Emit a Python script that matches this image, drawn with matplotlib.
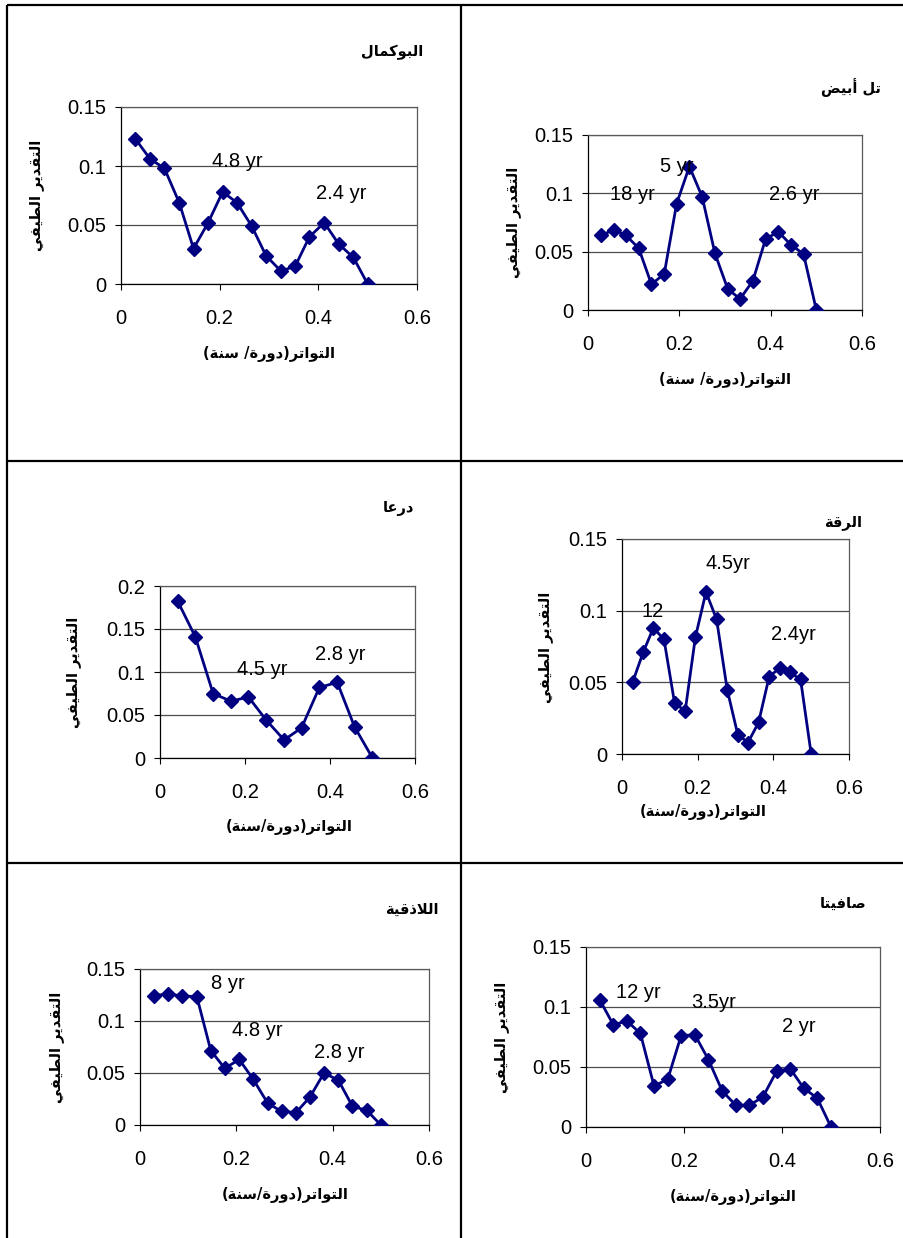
#--------------------- Imports ---------------------
import matplotlib
matplotlib.use('Agg')
import matplotlib.pyplot as plt
from matplotlib.ticker import FuncFormatter

W, H = 904, 1238
plt.rcParams['font.family'] = ['Liberation Sans', 'DejaVu Sans']

#--------------------- Data ---------------------
# frequencies (cycles / year) of the periodogram ordinates
freq34 = [0.029, 0.059, 0.088, 0.118, 0.147, 0.176, 0.206, 0.235, 0.265,
		  0.294, 0.324, 0.353, 0.382, 0.412, 0.441, 0.471, 0.5]
freq36 = [0.028, 0.056, 0.083, 0.111, 0.139, 0.167, 0.194, 0.222, 0.25,
		  0.278, 0.306, 0.333, 0.361, 0.389, 0.417, 0.444, 0.472, 0.5]
freq24 = [0.042, 0.083, 0.125, 0.167, 0.208, 0.25, 0.292, 0.333, 0.375,
		  0.417, 0.458, 0.5]

abukamal = [0.123, 0.106, 0.098, 0.069, 0.030, 0.0515, 0.078, 0.069, 0.049,
			0.024, 0.011, 0.015, 0.040, 0.052, 0.034, 0.0225, 0.0]
tallabyad = [0.064, 0.0685, 0.064, 0.053, 0.022, 0.031, 0.091, 0.123, 0.097,
			 0.0485, 0.018, 0.0095, 0.025, 0.061, 0.067, 0.056, 0.048, 0.0]
daraa = [0.182, 0.141, 0.075, 0.066, 0.071, 0.044, 0.021, 0.035, 0.082,
		 0.088, 0.036, 0.0]
raqqa = [0.050, 0.071, 0.088, 0.080, 0.0355, 0.030, 0.0815, 0.113, 0.094,
		 0.045, 0.0135, 0.008, 0.022, 0.054, 0.060, 0.057, 0.052, 0.0]
latakia = [0.1245, 0.126, 0.124, 0.1235, 0.0715, 0.0545, 0.063, 0.044, 0.021,
		   0.013, 0.012, 0.027, 0.050, 0.043, 0.018, 0.014, 0.0]
safita = [0.106, 0.085, 0.0885, 0.078, 0.034, 0.040, 0.076, 0.077, 0.056,
		  0.030, 0.018, 0.018, 0.025, 0.0465, 0.0485, 0.0325, 0.024, 0.0]

stations = ['البوكمال', 'تل أبيض', 'درعا', 'الرقة', 'اللاذقية', 'صافيتا']
y_label = 'التقدير الطيفي'
x_labels = ['التواتر(دورة/ سنة)', 'التواتر(دورة/ سنة)', 'التواتر(دورة/سنة)',
			'التواتر(دورة/سنة)', 'التواتر(دورة/سنة)', 'التواتر(دورة/سنة)']
y_max = [0.15, 0.15, 0.2, 0.15, 0.15, 0.15]

peak_text = [['4.8 yr', '2.4 yr'], ['18 yr', '5 yr', '2.6 yr'], ['4.5 yr', '2.8 yr'],
			 ['12', '4.5yr', '2.4yr'], ['8 yr', '4.8 yr', '2.8 yr'], ['12 yr', '3.5yr', '2 yr']]
peak_x = [[0.236, 0.446], [0.098, 0.194, 0.451], [0.240, 0.424],
		  [0.082, 0.280, 0.453], [0.183, 0.244, 0.414], [0.107, 0.261, 0.435]]
peak_y = [[0.1036, 0.0768], [0.0994, 0.1229, 0.0994], [0.1029, 0.1204],
		  [0.0994, 0.1326, 0.0831], [0.1356, 0.0909, 0.0697], [0.1122, 0.1039, 0.0839]]

series = [(freq34, abukamal), (freq36, tallabyad), (freq24, daraa),
		  (freq36, raqqa), (freq34, latakia), (freq36, safita)]

#--------------------- Layout (pixels) ---------------------
# axes box (left, top, right, bottom), title right edge, y label centre, x label centre
boxes = [(121, 107, 417, 284), (588, 135, 862, 310), (160, 586, 415, 758),
		 (622, 539, 849, 754), (140, 969, 429, 1125), (586, 947, 880, 1127)]
title_pos = [(423, 52), (881, 88), (414, 509), (862, 522), (439, 909), (866, 903)]
ylab_pos = [(37, 195), (514, 222), (74, 672), (546, 647), (57, 1047), (502, 1037)]
xlab_pos = [(269, 354), (725, 380), (289, 827), (703, 812), (285, 1195), (733, 1197)]

#--------------------- Arabic shaping ---------------------
# isolated, final, initial, medial presentation forms
FORMS = {
	'ا': ('\ufe8d', '\ufe8e', None, None),
	'أ': ('\ufe83', '\ufe84', None, None),
	'ب': ('\ufe8f', '\ufe90', '\ufe91', '\ufe92'),
	'ة': ('\ufe93', '\ufe94', None, None),
	'ت': ('\ufe95', '\ufe96', '\ufe97', '\ufe98'),
	'د': ('\ufea9', '\ufeaa', None, None),
	'ذ': ('\ufeab', '\ufeac', None, None),
	'ر': ('\ufead', '\ufeae', None, None),
	'س': ('\ufeb1', '\ufeb2', '\ufeb3', '\ufeb4'),
	'ص': ('\ufeb9', '\ufeba', '\ufebb', '\ufebc'),
	'ض': ('\ufebd', '\ufebe', '\ufebf', '\ufec0'),
	'ط': ('\ufec1', '\ufec2', '\ufec3', '\ufec4'),
	'ع': ('\ufec9', '\ufeca', '\ufecb', '\ufecc'),
	'ف': ('\ufed1', '\ufed2', '\ufed3', '\ufed4'),
	'ق': ('\ufed5', '\ufed6', '\ufed7', '\ufed8'),
	'ك': ('\ufed9', '\ufeda', '\ufedb', '\ufedc'),
	'ل': ('\ufedd', '\ufede', '\ufedf', '\ufee0'),
	'م': ('\ufee1', '\ufee2', '\ufee3', '\ufee4'),
	'ن': ('\ufee5', '\ufee6', '\ufee7', '\ufee8'),
	'و': ('\ufeed', '\ufeee', None, None),
	'ي': ('\ufef1', '\ufef2', '\ufef3', '\ufef4'),
}

def joins_next(c):
	return c in FORMS and FORMS[c][2] is not None

def shape(text):
	out = []
	i = 0
	while i < len(text):
		c = text[i]
		if c not in FORMS:
			out.append(c)
			i += 1
			continue
		jp = i > 0 and joins_next(text[i-1])
		if c == 'ل' and i+1 < len(text) and text[i+1] == 'ا':
			out.append('\ufefc' if jp else '\ufefb')
			i += 2
			continue
		jn = joins_next(c) and i+1 < len(text) and text[i+1] in FORMS
		iso, fin, ini, med = FORMS[c]
		if jp and jn: out.append(med)
		elif jp: out.append(fin)
		elif jn: out.append(ini)
		else: out.append(iso)
		i += 1
	# visual order, brackets mirrored
	return ''.join(out)[::-1].translate(str.maketrans('()', ')('))

#--------------------- Figure ---------------------
fig = plt.figure(figsize=(W/100, H/100), dpi=100)

# table grid behind the charts
bg = fig.add_axes([0, 0, 1, 1])
bg.set_xlim(0, W)
bg.set_ylim(H, 0)
bg.axis('off')
grid_kw = dict(color='black', lw=1.6, solid_capstyle='butt')
bg.plot([7, W], [5, 5], **grid_kw)
bg.plot([7, 7], [5, H], **grid_kw)
bg.plot([461, 461], [5, H], **grid_kw)
bg.plot([7, W], [461, 461], **grid_kw)
bg.plot([7, W], [862.5, 862.5], **grid_kw)

ar_font = dict(family='DejaVu Sans', fontweight='bold', fontsize=10.5)
fmt = FuncFormatter(lambda v, p: '%g' % round(v, 3))

for i in range(6):
	l, t, r, b = boxes[i]
	ax = fig.add_axes([l/W, 1 - b/H, (r-l)/W, (b-t)/H])
	x, y = series[i]
	ax.plot(x, y, color='#000080', lw=2, marker='D', ms=7, mfc='#000080', mec='#000080', zorder=3)
	ax.set_xlim(0, 0.6)
	ax.set_ylim(0, y_max[i])
	ax.set_xticks([0, 0.2, 0.4, 0.6])
	ax.set_yticks([k*0.05 for k in range(int(round(y_max[i]/0.05)) + 1)])
	ax.xaxis.set_major_formatter(fmt)
	ax.yaxis.set_major_formatter(fmt)
	ax.tick_params(axis='both', direction='out', length=4.3, width=0.8, labelsize=14.5, color='black')
	ax.tick_params(axis='y', pad=6.5)
	ax.tick_params(axis='x', pad=13.5)
	ax.yaxis.grid(True, color='0.3', lw=0.9)
	ax.set_axisbelow(True)
	for s in ['left', 'bottom']:
		ax.spines[s].set_color('black')
		ax.spines[s].set_linewidth(0.9)
	for s in ['top', 'right']:
		ax.spines[s].set_color('0.35')
		ax.spines[s].set_linewidth(0.9)
	for txt, px, py in zip(peak_text[i], peak_x[i], peak_y[i]):
		ax.text(px, py, txt, ha='center', va='center', fontsize=14.5, zorder=4)

	bg.text(title_pos[i][0], title_pos[i][1], shape(stations[i]), ha='right', va='center', **ar_font)
	bg.text(ylab_pos[i][0], ylab_pos[i][1], shape(y_label), ha='center', va='center', rotation=90, **ar_font)
	bg.text(xlab_pos[i][0], xlab_pos[i][1], shape(x_labels[i]), ha='center', va='center', **ar_font)

fig.savefig('out.png', dpi=100)
